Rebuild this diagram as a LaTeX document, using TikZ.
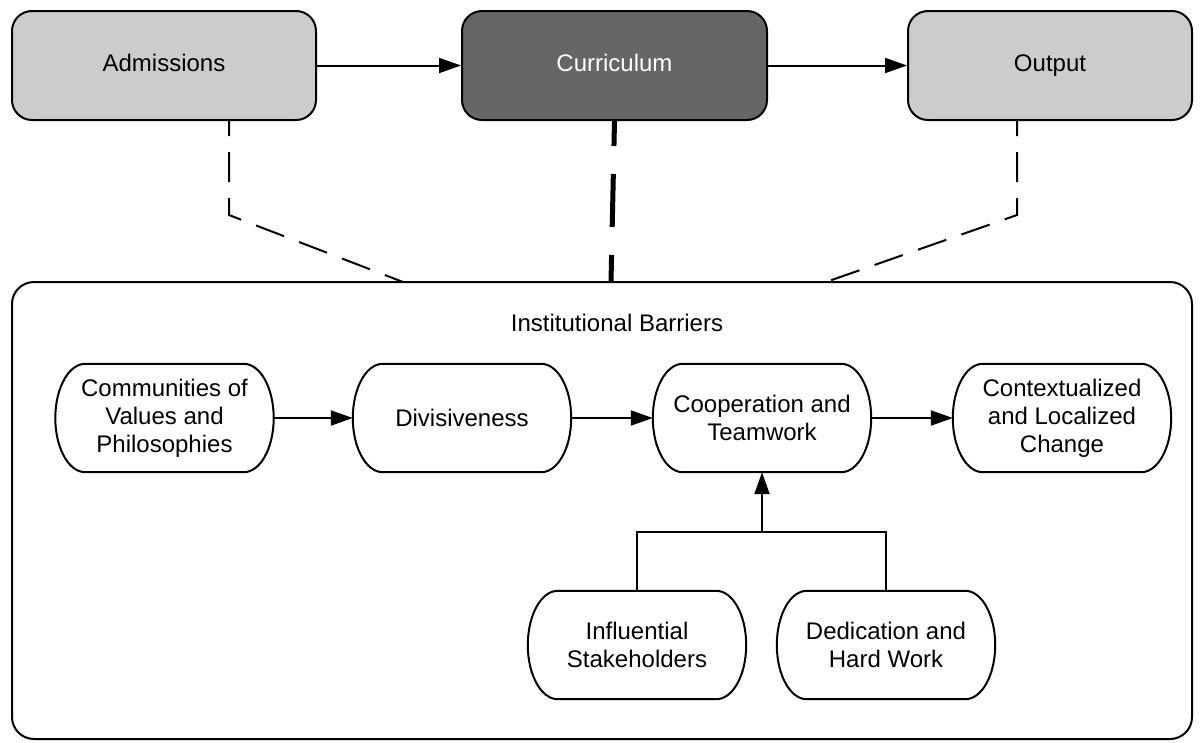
\documentclass[tikz,border=0pt]{standalone}
\usepackage{fontspec}
\setmainfont{Liberation Sans}
\usetikzlibrary{arrows.meta}
\definecolor{lightbox}{HTML}{CCCCCC}
\definecolor{darkbox}{HTML}{666666}
\newcommand\pilloutline[1]{%
  \draw[line width=2pt] ([xshift=-30pt]#1.north east)
    .. controls ([xshift=-13.4pt]#1.north east) and ([yshift=-24.2pt]#1.north east) .. (#1.east)
    .. controls ([yshift=24.2pt]#1.south east) and ([xshift=-13.4pt]#1.south east) .. ([xshift=-30pt]#1.south east)
    -- ([xshift=30pt]#1.south west)
    .. controls ([xshift=13.4pt]#1.south west) and ([yshift=24.2pt]#1.south west) .. (#1.west)
    .. controls ([yshift=-24.2pt]#1.north west) and ([xshift=13.4pt]#1.north west) .. ([xshift=30pt]#1.north west)
    -- cycle;}
\begin{document}
\begin{tikzpicture}[x=1pt,y=-1pt,
  labelfont/.style={font=\fontsize{24}{28}\selectfont},
  topbox/.style={draw=black, line width=2pt, rounded corners=20pt, minimum height=109pt, inner sep=0pt},
  pill/.style={minimum height=108pt, minimum width=218pt, inner sep=0pt, align=center, labelfont},
  link/.style={line width=2pt, -{Triangle[length=22pt,width=15pt]}},
  thindash/.style={line width=2pt, dash pattern=on 30pt off 16pt, dash phase=15pt},
  thickdash/.style={line width=5pt, dash pattern=on 53pt off 28pt, dash phase=28pt}
]
\useasboundingbox (0,0) rectangle (1204,742);
\fill[white] (0,0) rectangle (1204,742);

% big container
\node[draw=black, line width=2pt, rounded corners=22pt, minimum width=1180pt, minimum height=457pt, inner sep=0pt] (bar) at (602,510.5) {};
\node[labelfont] (bartitle) at (617,323) {Institutional Barriers};

% top row
\node[topbox, minimum width=304pt, fill=lightbox] (adm) at (164,65.5) {};
\node[labelfont, anchor=base] (admt) at (164,71) {Admissions};
\node[topbox, minimum width=305pt, fill=darkbox] (cur) at (614.5,65.5) {};
\node[labelfont, anchor=base, text=white] (curt) at (614.5,71) {Curriculum};
\node[topbox, minimum width=284pt, fill=lightbox] (out) at (1050,65.5) {};
\node[labelfont, anchor=base] (outt) at (1050,71) {Output};

\draw[link] (adm.east) -- (cur.west);
\draw[link] (cur.east) -- (out.west);

% dashed links to the container
\coordinate (a1) at (229,215);
\coordinate (a2) at (403,282);
\draw[thindash] ([xshift=65pt]adm.south) -- (a1) -- (a2);
\coordinate (c1) at (611,282);
\draw[thickdash] (cur.south) -- (c1);
\coordinate (o1) at (1017,215);
\coordinate (o2) at (826,282);
\draw[thindash] ([xshift=-33pt]out.south) -- (o1) -- (o2);

% inner flow
\node[pill] (com) at (164.5,418) {Communities of\\Values and\\Philosophies};
\node[pill] (div) at (462,418) {Divisiveness};
\node[pill] (coop) at (762,418) {Cooperation and\\Teamwork};
\node[pill] (ctx) at (1062,418) {Contextualized\\and Localized\\Change};
\node[pill] (inf) at (637,645) {Influential\\Stakeholders};
\node[pill] (ded) at (886,645) {Dedication and\\Hard Work};
\pilloutline{com}
\pilloutline{div}
\pilloutline{coop}
\pilloutline{ctx}
\pilloutline{inf}
\pilloutline{ded}

\draw[link] (com.east) -- (div.west);
\draw[link] (div.east) -- (coop.west);
\draw[link] (coop.east) -- (ctx.west);

\coordinate (j1) at (637,532);
\coordinate (j2) at (886,532);
\draw[line width=2pt] (inf.north) -- (j1) -- (j2) -- (ded.north);
\draw[link] (j1 -| coop.south) -- (coop.south);
\end{tikzpicture}
\end{document}
